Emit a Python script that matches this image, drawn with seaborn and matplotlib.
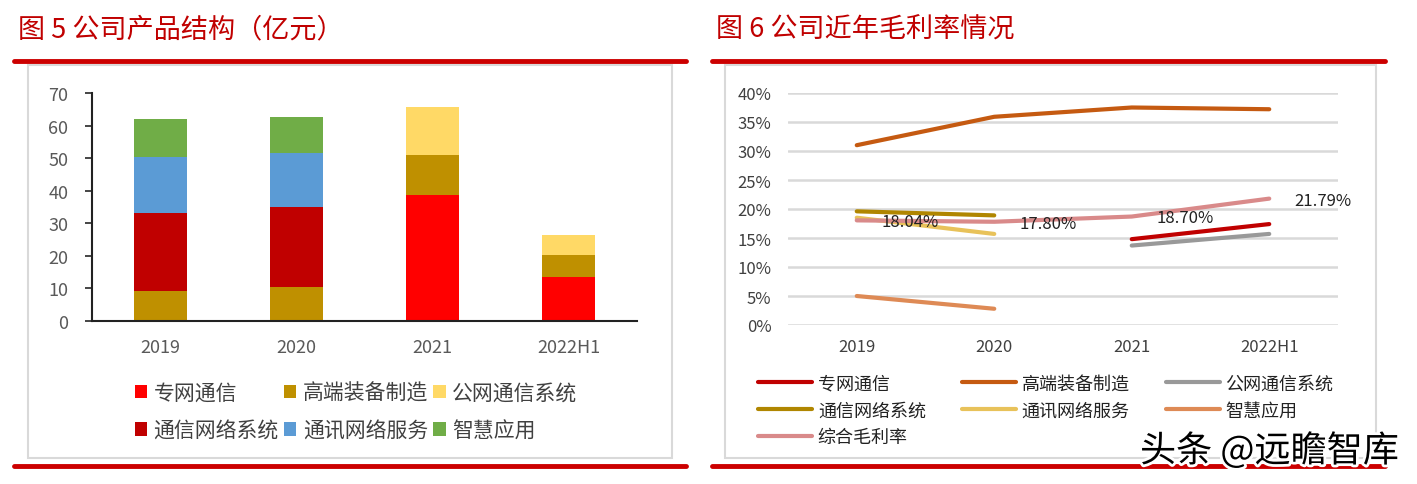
import numpy as np
import seaborn as sns
import matplotlib.pyplot as plt
from matplotlib.lines import Line2D
from matplotlib.patches import Rectangle
import matplotlib.patheffects as pe

# data
years = ['2019', '2020', '2021', '2022H1']

bar_names = ['专网通信', '高端装备制造', '公网通信系统', '通信网络系统', '通讯网络服务', '智慧应用']
zwtx = [0, 0, 38.6, 13.4]
gdzb = [9.1, 10.4, 12.3, 6.8]
gwtx = [0, 0, 14.8, 6.1]
txwl = [24.0, 24.6, 0, 0]
txfw = [17.2, 16.6, 0, 0]
zhyy = [11.7, 11.0, 0, 0]
bar_colors = ['#FF0000', '#BF9000', '#FFD966', '#C00000', '#5B9BD5', '#70AD47']

line_names = ['专网通信', '高端装备制造', '公网通信系统', '通信网络系统', '通讯网络服务', '智慧应用', '综合毛利率']
m_zwtx = [np.nan, np.nan, 0.148, 0.174]
m_gdzb = [0.310, 0.359, 0.375, 0.372]
m_gwtx = [np.nan, np.nan, 0.137, 0.157]
m_txwl = [0.196, 0.189, np.nan, np.nan]
m_txfw = [0.185, 0.157, np.nan, np.nan]
m_zhyy = [0.050, 0.028, np.nan, np.nan]
m_total = [0.1804, 0.1780, 0.1870, 0.2179]
line_colors = ['#C00000', '#C55A11', '#999999', '#B08600', '#E8C25A', '#DE8A55', '#D98A8A']

sns.set_style('white')
plt.rcParams['font.family'] = ['Noto Sans CJK SC', 'DejaVu Sans']

W, H = 1417, 485
fig = plt.figure(figsize=(W / 100, H / 100), dpi=100)


def fx(px):
    return px / W


def fy(py):
    return 1 - py / H


# frames, red rules, titles
for x0, x1, bx0, bx1 in [(14, 686, 28, 672), (712, 1385, 725, 1376)]:
    fig.add_artist(Line2D([fx(x0), fx(x1)], [fy(62), fy(62)], color='#CC0000', lw=3.5))
    fig.add_artist(Line2D([fx(x0), fx(x1)], [fy(467), fy(467)], color='#CC0000', lw=3.5))
    fig.add_artist(Rectangle((fx(bx0), fy(459)), fx(bx1 - bx0), (459 - 66) / H,
                             fill=False, ec='#D9D9D9', lw=1.5))
fig.text(fx(18), fy(30), '图 5 公司产品结构（亿元）', color='#C00000', fontsize=19.5, va='center')
fig.text(fx(716), fy(30), '图 6 公司近年毛利率情况', color='#C00000', fontsize=19.5, va='center')

# left: stacked bars
ax1 = fig.add_axes([fx(92), fy(322), fx(637 - 92), (322 - 94) / H])
x = np.arange(len(years))
bottom = np.zeros(len(years))
for name, vals, c in zip(bar_names, [zwtx, gdzb, gwtx, txwl, txfw, zhyy], bar_colors):
    sns.barplot(x=x, y=vals, bottom=bottom, color=c, width=0.39, ax=ax1,
                label=name, native_scale=True, saturation=1, linewidth=0)
    bottom = bottom + np.array(vals)
ax1.set_xlim(-0.5, 3.5)
ax1.set_ylim(0, 70)
ax1.set_yticks(range(0, 71, 10))
ax1.set_xticks(x)
ax1.set_xticklabels(years)
sns.despine(ax=ax1)
for s in ['left', 'bottom']:
    ax1.spines[s].set_color('#222222')
    ax1.spines[s].set_linewidth(1.5)
ax1.tick_params(axis='y', left=True, length=5, width=1.2, pad=12, labelsize=13, labelcolor='#595959')
ax1.tick_params(axis='x', length=0, pad=12, labelsize=13, labelcolor='#595959')
handles, labels = ax1.get_legend_handles_labels()
if ax1.get_legend():
    ax1.get_legend().remove()
order = [0, 3, 1, 4, 2, 5]
fig.legend([handles[i] for i in order], [labels[i] for i in order], ncol=3, loc='upper left',
           bbox_to_anchor=(fx(116), fy(364)), frameon=False, fontsize=15,
           handlelength=0.6, handleheight=0.6, handletextpad=0.3,
           columnspacing=0.25, labelspacing=0.75, labelcolor='#404040')

# right: margin lines
ax2 = fig.add_axes([fx(788), fy(326), fx(1338 - 788), (326 - 94) / H])
for name, vals, c in zip(line_names, [m_zwtx, m_gdzb, m_gwtx, m_txwl, m_txfw, m_zhyy, m_total], line_colors):
    sns.lineplot(x=x, y=vals, color=c, lw=3, ax=ax2, label=name)
for xi, v in zip(x, m_total):
    ax2.annotate(f'{v * 100:.2f}%', (xi, v), xytext=(18, -1), textcoords='offset points',
                 va='center', ha='left', fontsize=12, color='#222222')
ax2.set_xlim(-0.5, 3.5)
ax2.set_ylim(0, 0.40)
ax2.set_yticks(np.arange(0, 0.41, 0.05))
ax2.set_yticklabels([f'{int(round(t * 100))}%' for t in np.arange(0, 0.41, 0.05)])
ax2.set_xticks(x)
ax2.set_xticklabels(years)
ax2.grid(axis='y', color='#D9D9D9', lw=1.8)
ax2.set_axisbelow(True)
sns.despine(ax=ax2, left=True, bottom=True)
ax2.tick_params(axis='both', length=0, labelsize=12, labelcolor='#404040')
ax2.tick_params(axis='y', pad=12)
ax2.tick_params(axis='x', pad=9)
h2, l2 = ax2.get_legend_handles_labels()
ax2.get_legend().remove()
order2 = [0, 3, 6, 1, 4, 2, 5]
fig.legend([h2[i] for i in order2], [l2[i] for i in order2], ncol=3, loc='upper left',
           bbox_to_anchor=(fx(742), fy(359)), frameon=False, fontsize=13,
           handlelength=3.0, handletextpad=0.3,
           columnspacing=2.0, labelspacing=0.5, labelcolor='#222222')

# watermark
fig.text(fx(1140), fy(452), '头条 @远瞻智库', fontsize=26, color='black', va='center',
         path_effects=[pe.withStroke(linewidth=4, foreground='white')])

fig.savefig('out.png', dpi=100)
